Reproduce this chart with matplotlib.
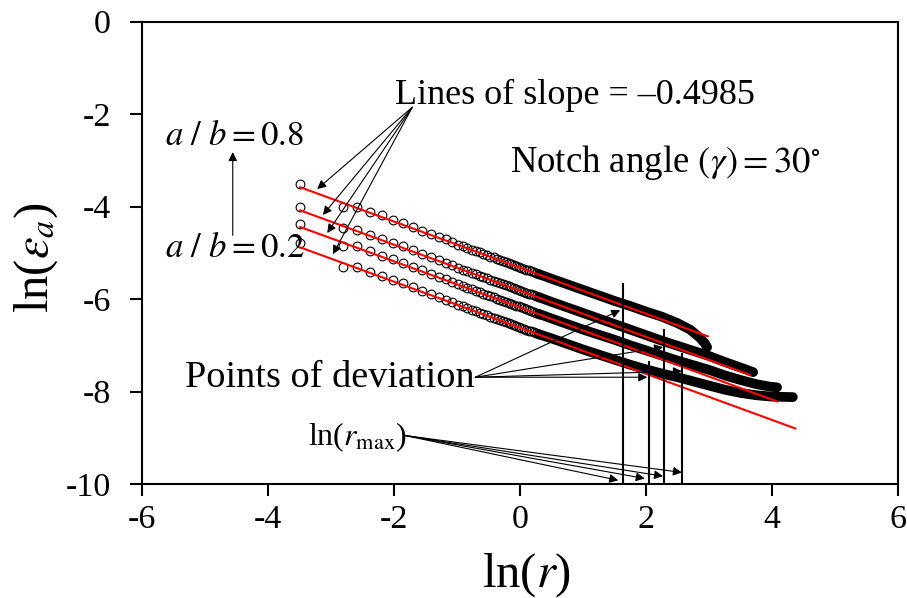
import matplotlib
matplotlib.use("Agg")
import matplotlib.pyplot as plt

# ---- datos: ln(r) vs ln(eps_a), notch 30 deg ----

# tramo con circulos visibles (misma malla para las cuatro curvas)
LN_R_CIRCULOS = [-3.49, -2.81, -2.59, -2.38, -2.19, -2.02, -1.86, -1.70, -1.55,
                 -1.41, -1.29, -1.18, -1.08,
                 -0.99, -0.91, -0.84, -0.77, -0.70, -0.64, -0.58, -0.52, -0.47,
                 -0.42, -0.37, -0.32, -0.27, -0.22, -0.18, -0.14, -0.10, -0.06,
                 -0.02, 0.02, 0.06, 0.10, 0.14, 0.18, 0.22, 0.26, 0.30]

EPS_08 = [-3.51, -4.00, -4.01, -4.11, -4.19, -4.28, -4.36, -4.44, -4.52,
          -4.59, -4.66, -4.71, -4.76,
          -4.82, -4.86, -4.89, -4.93, -4.96, -4.99, -5.02, -5.05, -5.08,
          -5.10, -5.13, -5.15, -5.18, -5.20, -5.22, -5.24, -5.26, -5.28,
          -5.30, -5.32, -5.34, -5.36, -5.38, -5.40, -5.42, -5.44, -5.46]
EPS_06 = [-4.01, -4.47, -4.50, -4.61, -4.70, -4.78, -4.86, -4.94, -5.02,
          -5.09, -5.16, -5.21, -5.26,
          -5.32, -5.36, -5.39, -5.43, -5.46, -5.49, -5.52, -5.55, -5.58,
          -5.60, -5.63, -5.65, -5.68, -5.70, -5.72, -5.74, -5.76, -5.78,
          -5.80, -5.82, -5.84, -5.86, -5.88, -5.90, -5.92, -5.94, -5.96]
EPS_04 = [-4.38, -4.86, -4.86, -4.97, -5.06, -5.14, -5.22, -5.30, -5.38,
          -5.45, -5.52, -5.57, -5.62,
          -5.68, -5.72, -5.75, -5.79, -5.82, -5.85, -5.88, -5.91, -5.94,
          -5.96, -5.99, -6.01, -6.04, -6.06, -6.08, -6.10, -6.12, -6.14,
          -6.16, -6.18, -6.20, -6.22, -6.24, -6.26, -6.28, -6.30, -6.32]
EPS_02 = [-4.79, -5.30, -5.30, -5.41, -5.50, -5.58, -5.66, -5.74, -5.82,
          -5.89, -5.96, -6.01, -6.06,
          -6.12, -6.16, -6.19, -6.23, -6.26, -6.29, -6.32, -6.35, -6.38,
          -6.40, -6.43, -6.45, -6.48, -6.50, -6.52, -6.54, -6.56, -6.58,
          -6.60, -6.62, -6.64, -6.66, -6.68, -6.70, -6.72, -6.74, -6.76]

# tramo denso (los circulos se funden en una banda negra)
BANDA_R_08 = [0.3, 0.5, 0.75, 1.0, 1.25, 1.5, 1.75, 2.0, 2.25, 2.5,
              2.7, 2.85, 2.93, 2.97]
BANDA_EPS_08 = [-5.46, -5.56, -5.68, -5.80, -5.92, -6.04, -6.15, -6.27,
                -6.38, -6.52, -6.66, -6.83, -6.95, -7.04]

BANDA_R_06 = [0.3, 0.5, 0.75, 1.0, 1.25, 1.5, 1.75, 2.0, 2.25, 2.5,
              2.75, 3.0, 3.25, 3.5, 3.7]
BANDA_EPS_06 = [-5.96, -6.06, -6.18, -6.30, -6.42, -6.54, -6.66, -6.78,
                -6.90, -7.01, -7.12, -7.23, -7.36, -7.48, -7.58]

BANDA_R_04 = [0.3, 0.5, 0.75, 1.0, 1.25, 1.5, 1.75, 2.0, 2.25, 2.5,
              2.75, 3.0, 3.25, 3.5, 3.75, 3.95, 4.08]
BANDA_EPS_04 = [-6.32, -6.42, -6.54, -6.66, -6.77, -6.88, -7.00, -7.11,
                -7.22, -7.33, -7.43, -7.53, -7.65, -7.75, -7.84, -7.89, -7.91]

BANDA_R_02 = [0.3, 0.5, 0.75, 1.0, 1.25, 1.5, 1.75, 2.0, 2.25, 2.5,
              2.75, 3.0, 3.25, 3.5, 3.75, 4.0, 4.33]
BANDA_EPS_02 = [-6.76, -6.85, -6.97, -7.09, -7.20, -7.31, -7.42, -7.52,
                -7.61, -7.69, -7.78, -7.87, -7.96, -8.03, -8.08, -8.11, -8.12]

# rectas de pendiente singular
PENDIENTE = -0.4985
INTERCEPTOS = [-5.32, -5.82, -6.18, -6.62]
X_INICIO_RECTA = -3.49
X_FIN_RECTA = [2.98, 3.65, 4.08, 4.37]

# ln(r_max) de cada curva y altura hasta donde sube la vertical
LN_R_MAX = [1.63, 2.29, 2.57, 2.05]
TOPE_VERTICAL = [-5.68, -6.67, -7.19, -7.37]

# flechas de anotacion (origen -> puntas)
ORIGEN_PENDIENTE = (-1.71, -1.85)
PUNTAS_PENDIENTE = [(-3.22, -3.62), (-3.13, -4.18), (-3.06, -4.57), (-2.97, -5.03)]
ORIGEN_DESVIO = (-0.71, -7.69)
PUNTAS_DESVIO = [(1.59, -6.24), (2.27, -7.04), (2.57, -7.56), (2.02, -7.69)]
ORIGEN_RMAX = (-1.83, -8.95)
PUNTAS_RMAX = [(1.56, -9.92), (1.98, -9.88), (2.27, -9.83), (2.57, -9.75)]

X_TICKS = [-6, -4, -2, 0, 2, 4, 6]
Y_TICKS = [0, -2, -4, -6, -8, -10]

plt.rcParams["font.family"] = ["Liberation Serif", "DejaVu Serif"]
plt.rcParams["mathtext.fontset"] = "stix"
plt.rcParams["axes.unicode_minus"] = False


def flecha(ax, origen, punta):
    ax.annotate("", xy=punta, xytext=origen,
                arrowprops=dict(arrowstyle="-|>", color="black", lw=0.8,
                                mutation_scale=13, shrinkA=0, shrinkB=0))


def main():
    fig = plt.figure(figsize=(9.07, 5.98), dpi=100)
    ax = fig.add_axes([0.1566, 0.1906, 0.8335, 0.7731])

    series = [(EPS_08, BANDA_R_08, BANDA_EPS_08),
              (EPS_06, BANDA_R_06, BANDA_EPS_06),
              (EPS_04, BANDA_R_04, BANDA_EPS_04),
              (EPS_02, BANDA_R_02, BANDA_EPS_02)]

    for i, (eps, br, beps) in enumerate(series):
        ax.plot(LN_R_CIRCULOS, eps, "o", ms=6.3, mfc="none", mec="black",
                mew=0.8, zorder=2)
        ax.plot(br, beps, "-", color="black", lw=7, solid_capstyle="round",
                solid_joinstyle="round", zorder=2)
        x_rec = [X_INICIO_RECTA, X_FIN_RECTA[i]]
        y_rec = [INTERCEPTOS[i] + PENDIENTE * x for x in x_rec]
        ax.plot(x_rec, y_rec, color="red", lw=1.5, zorder=3)

    for xv, tope in zip(LN_R_MAX, TOPE_VERTICAL):
        ax.plot([xv, xv], [-10, tope], color="black", lw=1.5, zorder=4)

    for p in PUNTAS_PENDIENTE:
        flecha(ax, ORIGEN_PENDIENTE, p)
    for p in PUNTAS_DESVIO:
        flecha(ax, ORIGEN_DESVIO, p)
    for p in PUNTAS_RMAX:
        flecha(ax, ORIGEN_RMAX, p)
    flecha(ax, (-4.56, -4.62), (-4.56, -2.82))

    ax.text(-1.98, -1.77, "Lines of slope = \u20130.4985", fontsize=26,
            va="baseline", ha="left")
    ax.text(-0.16, -3.25, r"Notch angle $(\gamma) = 30^{\circ}$", fontsize=26.5,
            va="baseline", ha="left")
    ax.text(-5.63, -2.67, r"$a\ /\ b = 0.8$", fontsize=25, va="baseline", ha="left")
    ax.text(-5.63, -5.09, r"$a\ /\ b = 0.2$", fontsize=25, va="baseline", ha="left")
    ax.text(-5.32, -7.91, "Points of deviation", fontsize=27.5, va="baseline",
            ha="left")
    ax.text(-3.37, -9.16, r"ln($r_{\mathrm{max}}$)", fontsize=23, va="baseline",
            ha="left")

    ax.set_xlim(-6, 6)
    ax.set_ylim(-10, 0)
    ax.set_xticks(X_TICKS)
    ax.set_yticks(Y_TICKS)
    ax.tick_params(direction="out", length=8.5, width=1.5, labelsize=24.5)
    ax.tick_params(axis="y", pad=14)
    ax.tick_params(axis="x", pad=6)
    for s in ax.spines.values():
        s.set_linewidth(1.5)

    ax.set_xlabel(r"ln($r$)", fontsize=35)
    ax.set_ylabel(r"ln($\varepsilon_a$)", fontsize=35)
    ax.xaxis.set_label_coords(0.509, -0.145)
    ax.yaxis.set_label_coords(-0.108, 0.49)

    fig.savefig("out.png", dpi=100)


if __name__ == "__main__":
    main()
